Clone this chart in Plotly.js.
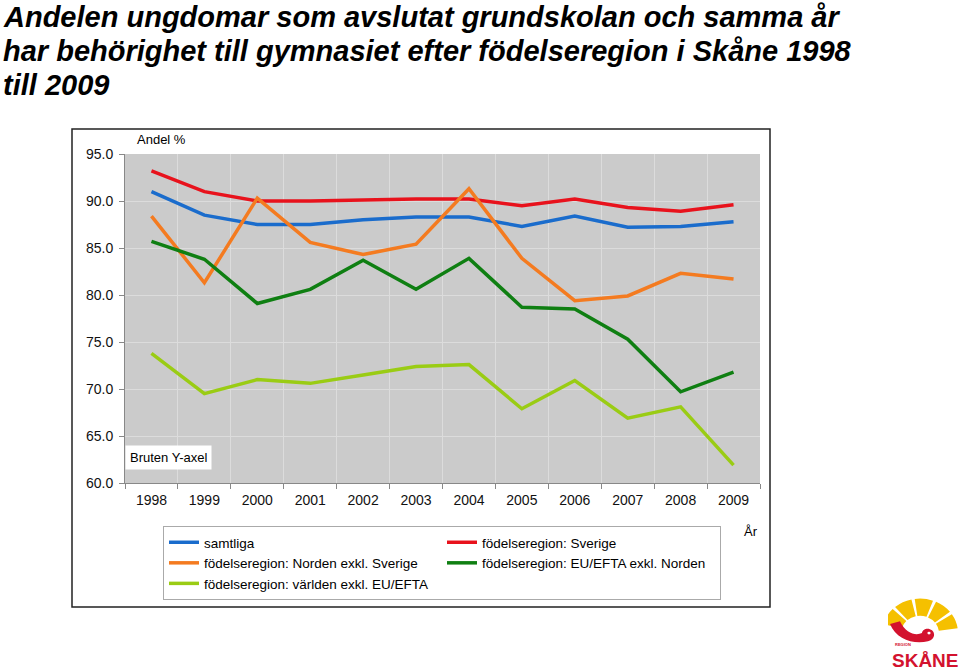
<!DOCTYPE html>
<html>
<head>
<meta charset="utf-8">
<script src="https://cdn.plot.ly/plotly-3.0.1.min.js"></script>
<style>html,body{margin:0;padding:0;background:#fff;}#chart{width:960px;height:671px;}</style>
</head>
<body>
<div id="chart"></div>
<script>
const years = ['1998','1999','2000','2001','2002','2003','2004','2005','2006','2007','2008','2009'];
const samtliga = [91.0, 88.5, 87.5, 87.5, 88.0, 88.3, 88.3, 87.3, 88.4, 87.2, 87.3, 87.8];
const sverige  = [93.2, 91.0, 90.0, 90.0, 90.1, 90.2, 90.2, 89.5, 90.2, 89.3, 88.9, 89.6];
const norden   = [88.4, 81.3, 90.3, 85.6, 84.3, 85.4, 91.3, 83.9, 79.4, 79.9, 82.3, 81.7];
const euefta   = [85.7, 83.8, 79.1, 80.6, 83.7, 80.6, 83.9, 78.7, 78.5, 75.3, 69.7, 71.8];
const varlden  = [73.8, 69.5, 71.0, 70.6, 71.5, 72.4, 72.6, 67.9, 70.9, 66.9, 68.1, 61.9];
const seriesNames = ['samtliga','födelseregion: Sverige','födelseregion: Norden exkl. Sverige','födelseregion: EU/EFTA exkl. Norden','födelseregion: världen exkl. EU/EFTA'];
const seriesColors = ['#1a6ccc','#e8121c','#f47b20','#0f7f12','#9acc14'];
const seriesValues = [samtliga, sverige, norden, euefta, varlden];
const titleLines = ['Andelen ungdomar som avslutat grundskolan och samma år','har behörighet till gymnasiet efter födelseregion i Skåne 1998','till 2009'];

const W = 960, H = 671;
const M = {l:125, r:200, t:154, b:188};
const PW = W - M.l - M.r, PH = H - M.t - M.b;
const px = x => (x - M.l) / PW;
const py = y => (H - M.b - y) / PH;
const FONT = 'Liberation Sans, Arial, sans-serif';

const traces = seriesValues.map((v, i) => ({
  type: 'scatter', mode: 'lines', x: years, y: v, name: seriesNames[i],
  line: {color: seriesColors[i], width: 3.5}
}));

const logoSvg = `<svg xmlns="http://www.w3.org/2000/svg" width="70" height="55" viewBox="0 0 70 55">
<g fill="#f5c000">
${[[165,136],[131,103],[98,70],[65,38],[33,8]].map(([a1,a2])=>{
  const cx=32, cy=43, R=38, r=19;
  const p=(a,rad)=>[cx+rad*Math.cos(a*Math.PI/180), cy-rad*Math.sin(a*Math.PI/180)];
  const o1=p(a1,R), o2=p(a2,R), i2=p(a2,r), i1=p(a1,r);
  return `<path d="M${o1[0]},${o1[1]} A${R},${R} 0 0 1 ${o2[0]},${o2[1]} L${i2[0]},${i2[1]} A${r},${r} 0 0 0 ${i1[0]},${i1[1]} Z"/>`;
}).join('')}
</g>
<path fill="#d3122e" d="M2,33 C8,50 26,56 40,52 C46,50 48,44 44,40 C40,36 34,39 34,43 C28,46 18,44 12,30 Z"/>
<circle cx="41" cy="43" r="1.6" fill="#fff"/>
</svg>`;

const titleFont = {family: FONT, size: 29, weight: 'bold', style: 'italic', color: '#000'};
const titleAnns = titleLines.map((t, i) => ({
  xref: 'paper', yref: 'paper', x: px(1), y: py(17 + 34 * i), xanchor: 'left', yanchor: 'middle',
  showarrow: false, text: t, font: titleFont, align: 'left'
}));

const layout = {
  width: W, height: H, autosize: false,
  margin: {l: M.l, r: M.r, t: M.t, b: M.b, pad: 0},
  paper_bgcolor: '#ffffff', plot_bgcolor: '#cbcbcb',
  font: {family: FONT, size: 13, color: '#000'},
  xaxis: {
    type: 'category', range: [-0.5, 11.5], tickson: 'boundaries',
    ticks: 'outside', ticklen: 5, tickcolor: '#888', showline: true, linecolor: '#888', linewidth: 1,
    showgrid: true, gridcolor: '#dcdcdc', gridwidth: 1,
    tickfont: {family: FONT, size: 14, color: '#111'}, ticklabelstandoff: 4, fixedrange: true
  },
  yaxis: {
    range: [60, 95], tick0: 60, dtick: 5, tickformat: '.1f',
    ticks: 'outside', ticklen: 5, tickcolor: '#888', showline: true, linecolor: '#888', linewidth: 1,
    showgrid: true, gridcolor: '#dcdcdc', gridwidth: 1, zeroline: false,
    tickfont: {family: FONT, size: 14, color: '#111'}, ticklabelstandoff: 3, fixedrange: true
  },
  showlegend: true,
  legend: {
    orientation: 'h', x: px(163), xanchor: 'left', y: py(526), yanchor: 'top',
    entrywidth: 233, entrywidthmode: 'pixels',
    bgcolor: '#fff', bordercolor: '#aaa', borderwidth: 1,
    font: {family: FONT, size: 13.5, color: '#000'}, traceorder: 'normal'
  },
  shapes: [
    {type: 'rect', xref: 'paper', yref: 'paper', x0: px(72), x1: px(770), y0: py(607), y1: py(129),
     line: {color: '#222', width: 1.5}, fillcolor: 'rgba(0,0,0,0)', layer: 'above'}
  ],
  annotations: titleAnns.concat([
    {xref: 'paper', yref: 'paper', x: px(135), y: py(140), xanchor: 'left', yanchor: 'middle', showarrow: false,
     text: 'Andel %', font: {family: FONT, size: 13, color: '#000'}},
    {xref: 'paper', yref: 'paper', x: px(125), y: py(457), xanchor: 'left', yanchor: 'middle', showarrow: false,
     text: 'Bruten Y-axel', bgcolor: '#fff', borderpad: 4, font: {family: FONT, size: 13, color: '#000'}},
    {xref: 'paper', yref: 'paper', x: px(742), y: py(531), xanchor: 'left', yanchor: 'middle', showarrow: false,
     text: 'År', font: {family: FONT, size: 13, color: '#000'}},
    {xref: 'paper', yref: 'paper', x: px(893), y: py(644), xanchor: 'left', yanchor: 'middle', showarrow: false,
     text: 'REGION', font: {family: FONT, size: 4, color: '#d3122e', weight: 'bold'}},
    {xref: 'paper', yref: 'paper', x: px(925), y: py(660), xanchor: 'center', yanchor: 'middle', showarrow: false,
     text: 'SKÅNE', font: {family: FONT, size: 19, color: '#d3122e', weight: 'bold'}}
  ]),
  images: [
    {source: 'data:image/svg+xml;charset=utf-8,' + encodeURIComponent(logoSvg),
     xref: 'paper', yref: 'paper', x: px(888), y: py(594), sizex: 70/PW, sizey: 50/PH,
     xanchor: 'left', yanchor: 'top', sizing: 'stretch', layer: 'above'}
  ]
};

Plotly.newPlot('chart', traces, layout, {displayModeBar: false, staticPlot: true});
</script>
</body>
</html>
